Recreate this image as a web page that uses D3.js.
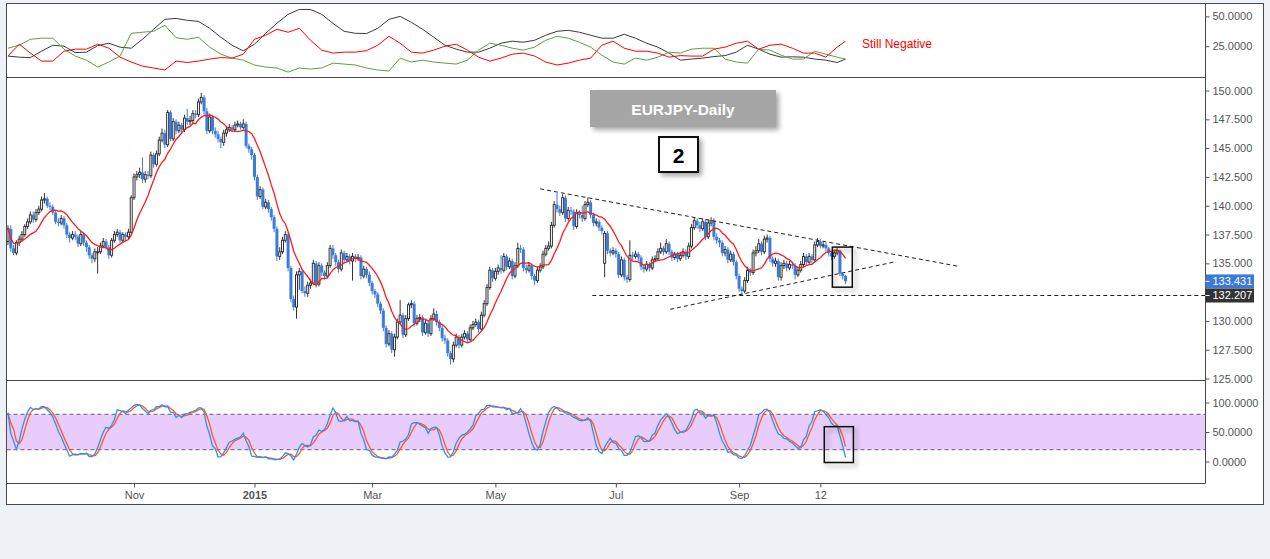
<!DOCTYPE html>
<html><head><meta charset="utf-8">
<script src="https://cdn.jsdelivr.net/npm/d3@7"></script>
<style>body{margin:0;background:#eef2f6;}svg{display:block}</style>
</head><body>
<svg id="c" width="1270" height="559"></svg>
<script>
// ---------------- DATA ----------------
const startDate = "2014-09-01";           // first daily bar (weekdays only)
const open0 = 136.9;
const closes = [
138.0,136.3,135.9,136.8,137.1,137.5,138.2,138.6,139.2,138.8,
139.4,139.7,140.5,140.6,140.0,139.9,139.4,138.6,138.5,138.9,
138.3,137.5,137.2,137.5,137.3,136.7,137.5,136.8,136.4,135.7,
135.4,136.0,136.0,136.5,136.9,136.4,135.7,137.0,137.5,137.7,
137.0,137.5,137.3,137.7,140.7,142.5,142.7,142.9,142.3,142.7,
142.6,144.4,143.6,144.5,145.7,146.3,145.3,148.1,145.8,147.3,
146.5,147.0,146.6,147.6,147.3,147.4,148.0,147.9,149.0,149.4,
148.2,146.5,147.7,146.5,146.2,145.8,145.5,146.3,146.6,146.8,
146.6,147.0,147.1,146.8,147.1,145.2,144.9,144.4,142.5,140.8,
141.4,139.9,140.3,139.7,139.0,138.0,135.6,136.0,137.0,137.5,
134.6,131.9,131.2,134.0,134.3,132.6,132.4,133.1,133.3,135.0,
133.2,134.8,134.2,133.9,134.8,136.3,135.7,135.1,134.5,135.9,
135.3,135.6,135.2,135.6,135.4,135.5,133.9,134.5,134.0,133.3,
132.6,132.3,131.5,130.9,129.4,128.0,128.9,127.5,128.6,129.9,
130.5,128.8,130.2,131.4,131.5,129.8,130.2,130.3,129.0,129.8,
128.9,130.2,130.6,129.9,129.4,128.5,128.3,127.2,126.7,127.9,
128.6,127.9,128.6,128.9,128.4,129.4,129.7,129.9,129.3,130.5,
131.5,132.9,134.4,133.7,134.3,134.6,134.4,135.6,134.7,135.2,
133.9,134.8,136.3,136.2,134.6,134.4,134.8,133.9,133.5,134.4,
134.7,135.8,136.3,136.5,138.3,140.1,139.7,139.4,140.7,138.9,
139.6,139.5,138.2,139.4,139.2,138.9,140.1,140.3,139.2,138.5,
138.6,138.1,137.8,137.6,136.1,135.9,136.1,135.8,134.0,135.3,
133.8,133.6,135.7,135.6,135.8,135.5,134.7,134.5,134.9,134.6,
135.3,135.4,136.0,136.3,136.0,136.7,136.0,135.5,135.8,135.4,
135.7,136.0,135.6,136.5,138.1,138.7,138.3,138.0,138.6,137.3,
138.5,138.7,137.3,137.0,136.8,135.9,136.2,135.3,135.8,135.1,
133.9,132.8,132.6,133.5,134.4,134.2,135.9,136.1,136.7,136.0,
137.1,137.2,135.4,135.0,135.2,133.8,134.8,135.0,134.6,134.9,
134.8,134.0,134.4,134.9,135.6,135.1,135.6,135.3,136.6,136.9,
136.5,136.6,136.3,135.9,135.6,135.9,136.1,134.1,133.9,133.431];
const highs = [
138.3,138.3,136.6,137.0,137.4,137.8,138.4,138.9,139.5,139.5,
139.7,140.0,140.8,141.1,140.8,140.3,140.1,139.6,138.9,139.2,
139.1,138.5,137.7,137.8,137.8,137.5,137.8,137.7,137.0,136.6,
135.9,136.3,136.4,136.8,137.2,137.1,136.6,137.2,137.8,138.0,
137.9,137.7,137.7,138.0,140.9,142.8,143.0,143.3,144.2,143.0,
143.0,144.7,144.6,144.8,146.0,146.7,146.6,148.3,148.3,147.6,
147.5,147.3,147.2,147.9,148.4,147.8,148.3,148.3,149.3,149.8,
149.6,148.5,148.0,147.9,146.8,146.5,146.0,146.6,146.9,147.1,
147.0,147.3,147.4,147.3,147.5,147.3,145.4,145.1,144.6,142.7,
141.7,141.6,140.6,140.5,139.9,139.2,138.2,136.4,137.3,137.8,
137.7,134.8,132.2,134.3,134.6,134.5,133.0,133.4,133.6,135.3,
135.2,135.1,135.0,134.4,135.1,136.6,136.6,135.9,135.3,136.2,
136.1,135.9,135.8,135.9,135.8,135.8,135.7,134.8,134.7,134.3,
133.5,132.8,132.5,131.7,131.1,129.6,129.2,129.1,128.9,130.2,
131.8,130.7,130.5,131.6,131.8,131.7,130.5,130.6,130.5,130.1,
130.0,130.5,131.1,130.9,130.1,129.6,128.8,128.5,127.4,128.2,
128.9,128.8,128.9,129.2,129.1,129.7,130.0,130.2,130.1,130.8,
131.8,133.2,134.7,134.6,134.6,134.9,135.7,135.9,135.8,135.5,
135.4,135.1,136.8,136.6,136.4,134.9,135.1,135.0,134.1,134.7,
135.0,136.1,136.6,136.9,138.6,140.4,141.1,140.0,141.0,140.9,
139.9,139.9,139.7,139.7,139.6,140.0,140.4,140.7,140.5,139.4,
138.9,138.8,138.3,137.8,137.8,136.3,136.4,136.3,136.0,135.6,
135.5,134.0,137.0,136.0,136.1,136.0,135.7,134.9,135.2,135.1,
135.6,135.7,136.3,136.8,136.5,137.1,136.9,136.2,136.0,136.0,
136.0,136.3,136.2,136.8,138.4,139.0,138.9,138.6,138.9,138.8,
138.8,139.0,138.9,137.6,137.2,137.0,136.5,136.4,136.1,136.0,
135.3,134.1,133.0,133.8,134.7,134.6,136.2,136.5,137.1,136.9,
137.4,137.5,137.4,135.6,135.5,135.4,135.1,135.3,135.2,135.2,
135.1,135.0,134.7,135.2,135.9,135.8,135.9,135.8,136.9,137.2,
137.1,136.9,136.8,136.4,136.1,136.2,136.4,136.2,134.2,134.0];
const lows = [
136.6,136.0,135.7,135.7,136.5,136.9,137.3,138.0,138.4,138.5,
138.6,139.2,139.5,140.2,139.8,139.6,139.2,138.4,138.2,138.3,
138.0,137.2,136.8,137.0,137.0,136.4,136.5,136.5,136.0,135.4,
135.0,135.1,134.1,135.8,136.3,136.2,135.4,135.5,136.8,137.3,
136.8,136.8,137.0,137.1,137.5,140.5,142.2,142.4,142.0,142.0,
142.3,142.4,143.3,143.4,144.3,145.5,145.0,145.1,145.6,145.6,
146.2,146.3,146.3,146.4,147.0,147.0,147.2,147.6,147.7,148.8,
147.9,146.2,146.3,146.2,145.9,145.5,145.0,145.2,146.0,146.4,
146.4,146.4,146.8,146.6,146.6,145.0,144.6,144.0,142.2,140.5,
140.6,139.7,139.7,139.4,138.7,137.7,135.2,135.3,135.8,136.8,
134.3,131.6,130.9,130.2,132.7,132.4,132.1,132.1,132.8,133.1,
132.9,133.0,133.9,133.6,133.7,134.6,135.4,134.8,134.2,134.3,
135.0,135.1,134.9,133.5,135.1,135.2,133.6,133.7,133.7,133.0,
132.3,132.0,131.2,130.6,129.1,127.7,127.8,127.2,126.9,128.4,
129.7,128.5,128.6,130.0,131.1,129.5,129.6,129.9,128.7,128.8,
128.6,128.7,130.0,129.6,129.1,128.2,128.0,126.9,126.2,126.4,
127.7,127.6,127.7,128.4,128.1,128.2,129.2,129.5,129.0,129.1,
130.3,131.3,132.7,133.4,133.5,134.0,134.1,134.2,134.4,134.5,
133.6,133.7,134.6,135.9,134.3,134.1,134.2,133.6,133.1,133.3,
134.2,134.5,135.6,136.1,136.3,138.1,139.4,139.1,139.2,138.6,
138.7,139.2,137.9,138.0,138.9,138.6,138.7,139.9,138.9,138.2,
138.2,137.8,137.5,133.8,135.8,135.6,135.7,135.5,133.7,133.8,
133.5,133.3,133.4,135.3,135.4,135.2,134.4,134.2,134.3,134.3,
134.4,135.1,135.2,135.8,135.7,135.8,135.7,135.2,135.3,135.1,
135.2,135.5,135.3,135.4,136.3,137.9,138.0,137.7,137.8,137.0,
137.1,138.2,137.0,136.7,136.4,135.6,135.6,135.0,135.1,134.8,
133.6,132.5,132.2,132.4,133.3,133.9,134.0,135.6,135.9,135.7,
135.8,136.8,135.1,134.7,134.7,133.5,133.5,134.5,134.3,134.4,
134.5,133.6,133.8,134.2,134.7,134.8,134.9,135.0,135.1,136.4,
136.3,136.3,136.0,135.6,135.3,135.4,135.7,133.9,133.6,133.2];
const gapOpens = [[213, 135.0]];          // [bar, open] where the open gapped

// DMI pane: sample bars and the three lines
const dmiBars = [0,4,8,12,16,20,24,28,32,36,40,44,48,52,56,60,64,68,72,76,80,84,88,92,96,100,104,108,112,116,
120,124,128,132,136,140,144,148,152,156,160,164,168,172,176,180,184,188,192,196,200,204,208,212,216,220,224,228,232,236,
240,244,248,252,256,260,264,268,272,276,280,284,288,292,296,299];
const adxLine = [
16.7,15.8,15.4,20.8,25.8,25.0,19.6,20.0,25.4,27.5,
24.2,23.3,30.8,39.2,47.5,48.3,46.7,45.8,40.0,32.5,
25.8,21.1,26.7,35.8,44.2,51.7,55.8,55.8,51.7,44.2,
37.5,35.8,35.6,40.0,47.5,50.0,45.0,39.2,32.5,25.8,
22.5,20.0,20.0,23.3,27.5,29.2,28.3,30.0,34.2,37.5,
38.3,36.7,34.2,31.7,31.7,35.0,31.7,27.5,24.2,19.2,
13.3,14.2,15.0,16.3,17.1,20.0,25.8,22.5,18.3,15.8,
16.1,15.8,14.2,13.3,11.3,14.2];
const minusDI = [
16.7,26.7,19.2,12.5,12.5,20.8,22.5,22.5,26.7,23.3,
15.8,11.7,8.3,6.7,5.0,12.5,11.3,12.5,14.2,15.4,
15.0,18.3,30.8,34.2,39.2,36.7,40.0,30.0,21.7,19.2,
20.0,20.0,21.3,25.8,33.3,27.5,20.0,19.2,21.7,25.0,
26.7,21.7,15.8,12.5,15.0,18.3,19.2,16.7,11.7,9.2,
10.8,13.3,15.0,25.8,29.2,23.3,20.8,20.8,19.2,15.8,
17.1,16.7,16.7,22.5,24.2,27.5,29.2,22.5,25.8,26.7,
23.3,19.2,19.2,15.8,24.2,29.2];
const plusDI = [
23.3,25.8,30.8,31.7,31.7,22.5,16.7,13.3,7.5,11.7,
16.7,35.8,36.7,37.5,42.5,32.1,30.8,32.5,24.2,18.3,
15.0,13.3,9.2,7.5,6.7,3.3,6.7,5.8,6.7,10.8,
10.0,9.2,6.7,5.0,4.2,15.0,11.7,13.3,11.7,10.8,
10.0,13.3,21.7,27.5,25.8,23.3,21.7,24.2,30.0,33.3,
31.7,28.3,24.2,17.5,11.7,10.0,15.0,13.3,15.8,20.0,
19.2,22.5,23.3,23.3,14.2,11.7,10.8,22.5,21.7,17.5,
14.2,14.2,20.8,18.3,15.8,14.2];

// 132.500 is hidden behind the price labels in the reference, so it is not listed
const priceTicks = [125,127.5,130,135,137.5,140,142.5,145,147.5,150];
const dmiTicks = [25, 50];
const stochTicks = [0, 50, 100];
const xTickLabels = ["Nov","2015","Mar","May","Jul","Sep","12"];
const xTickDates  = ["2014-11-03","2015-01-01","2015-03-02","2015-05-01","2015-07-01","2015-09-01","2015-10-12"];
const boldTicks = ["2015"];

const supportLevel = 132.207;
const supportFrom = 208.6;                      // bar
const upperTrend = [[190, 141.46], [338.9, 134.76]];   // [bar, price]
const lowerTrend = [[236.4, 131.01], [316.1, 135.10]];
const boxMain  = [[294.3, 136.41], [301.4, 132.93]];
const boxStoch = [[291.4, 59], [301.8, -1.7]];
const stochBand = [20, 80];
const maPeriod = 10, stochK = 14, stochSmooth = 3;

// ---------------- DERIVED ----------------
const N = closes.length;
const opens = closes.map((c,i)=> i===0 ? open0 : closes[i-1]);
gapOpens.forEach(([i,o])=>{opens[i]=o;});
const bars = closes.map((c,i)=>({i, o:opens[i], h:highs[i], l:lows[i], c}));

const parse = d3.utcParse("%Y-%m-%d"), fmt = d3.utcFormat("%Y-%m-%d");
const dates = []; {let d = parse(startDate); while(dates.length<450){const wd=d.getUTCDay(); if(wd!==0&&wd!==6) dates.push(fmt(d)); d=d3.utcDay.offset(d,1);} }
const tickIdx = xTickDates.map(s=>dates.indexOf(s));

const ma = closes.map((c,i)=>{const s=Math.max(0,i-maPeriod+1); return d3.mean(closes.slice(s,i+1));});
const raw = closes.map((c,i)=>{const s=Math.max(0,i-stochK+1); const hh=d3.max(highs.slice(s,i+1)), ll=d3.min(lows.slice(s,i+1)); return hh===ll?50:(c-ll)/(hh-ll)*100;});
const kLine = raw.map((v,i)=>d3.mean(raw.slice(Math.max(0,i-stochSmooth+1),i+1)));
const dLine = kLine.map((v,i)=>d3.mean(kLine.slice(Math.max(0,i-stochSmooth+1),i+1)));

// ---------------- LAYOUT ----------------
const L=6.5, R=1205.5, RB=1263.5, T=3.5, S1=77.5, S2=380.5, B=483.5, BB=504.5;
const svg = d3.select("#c");
const font = "'Liberation Sans', Arial, sans-serif";
const defs = svg.append("defs");
const f = defs.append("filter").attr("id","sh").attr("x","-40%").attr("y","-40%").attr("width","180%").attr("height","180%");
f.append("feDropShadow").attr("dx",3).attr("dy",3).attr("stdDeviation",2.5).attr("flood-color","#000").attr("flood-opacity",0.35);
[["cTop",T,S1],["cMain",S1,S2],["cSto",S2,B]].forEach(([id,a,b])=>defs.append("clipPath").attr("id",id).append("rect").attr("x",L).attr("y",a).attr("width",R-L).attr("height",b-a));

svg.append("rect").attr("x",L).attr("y",T).attr("width",RB-L).attr("height",BB-T).attr("fill","#fff");

const x = d3.scaleLinear().domain([-0.35, 427.5]).range([L+0.5, R]);
const yP = d3.scaleLinear().domain([124.83, 151.13]).range([S2, S1]);
const yD = d3.scaleLinear().domain([0, 60.8]).range([76, T]);
const yS = d3.scaleLinear().domain([-37.3, 137.3]).range([B, S2]);
const lineXY = (ys)=>d3.line().x(d=>x(d[0])).y(d=>ys(d[1]));

// ---- top pane (DMI)
const gT = svg.append("g").attr("clip-path","url(#cTop)");
[[adxLine,"#3a3a3a"],[plusDI,"#5f9e45"],[minusDI,"#ff0000"]].forEach(([vals,col])=>
  gT.append("path").datum(vals.map((v,k)=>[dmiBars[k],v])).attr("d",lineXY(yD)).attr("fill","none").attr("stroke",col).attr("stroke-width",1));
svg.append("text").attr("x",862).attr("y",48).attr("font-family",font).attr("font-size",12).attr("fill","#ff0000").text("Still Negative");

// ---- main pane
const gM = svg.append("g").attr("clip-path","url(#cMain)");
const up = "#333333", dnC = "#3d7bd9";
gM.selectAll("line.w").data(bars).join("line").attr("class","w")
  .attr("x1",d=>x(d.i)).attr("x2",d=>x(d.i)).attr("y1",d=>yP(d.h)).attr("y2",d=>yP(d.l))
  .attr("stroke",d=>d.c>=d.o?up:dnC).attr("stroke-width",1);
gM.selectAll("rect.b").data(bars).join("rect").attr("class","b")
  .attr("x",d=>d.c>=d.o?x(d.i)-1:x(d.i)-1.5)
  .attr("width",d=>d.c>=d.o?2:3)
  .attr("y",d=>yP(Math.max(d.o,d.c)))
  .attr("height",d=>Math.max(1,yP(Math.min(d.o,d.c))-yP(Math.max(d.o,d.c))))
  .attr("fill",d=>d.c>=d.o?"#fff":dnC)
  .attr("stroke",d=>d.c>=d.o?up:"none").attr("stroke-width",1);
gM.append("path").datum(ma.map((v,i)=>[i,v])).attr("d",lineXY(yP)).attr("fill","none").attr("stroke","#ff1a1a").attr("stroke-width",1.3);
[upperTrend, lowerTrend].forEach(t=>gM.append("line").attr("x1",x(t[0][0])).attr("y1",yP(t[0][1])).attr("x2",x(t[1][0])).attr("y2",yP(t[1][1]))
  .attr("stroke","#222").attr("stroke-width",1).attr("stroke-dasharray","4,3"));
gM.append("line").attr("x1",x(supportFrom)).attr("x2",R).attr("y1",yP(supportLevel)).attr("y2",yP(supportLevel))
  .attr("stroke","#222").attr("stroke-width",1).attr("stroke-dasharray","4,3");
gM.append("rect").attr("x",x(boxMain[0][0])).attr("y",yP(boxMain[0][1])).attr("width",x(boxMain[1][0])-x(boxMain[0][0])).attr("height",yP(boxMain[1][1])-yP(boxMain[0][1]))
  .attr("fill","none").attr("stroke","#111").attr("stroke-width",1.5).attr("filter","url(#sh)");
svg.append("rect").attr("x",590).attr("y",90).attr("width",186).attr("height",37).attr("fill","#a5a5a5").attr("filter","url(#sh)");
svg.append("text").attr("x",683).attr("y",114.5).attr("text-anchor","middle").attr("font-family",font).attr("font-weight","bold").attr("font-size",15.5).attr("fill","#fff").text("EURJPY-Daily");
svg.append("rect").attr("x",659).attr("y",137).attr("width",39).attr("height",35).attr("fill","#fff").attr("stroke","#111").attr("stroke-width",2).attr("filter","url(#sh)");
svg.append("text").attr("x",678.5).attr("y",162.5).attr("text-anchor","middle").attr("font-family",font).attr("font-weight","bold").attr("font-size",21).attr("fill","#000").text("2");

// ---- stochastic pane
const gS = svg.append("g").attr("clip-path","url(#cSto)");
gS.append("rect").attr("x",L).attr("width",R-L).attr("y",yS(stochBand[1])).attr("height",yS(stochBand[0])-yS(stochBand[1])).attr("fill","#e8cdfc");
stochBand.forEach(v=>gS.append("line").attr("x1",L).attr("x2",R).attr("y1",yS(v)).attr("y2",yS(v)).attr("stroke","#6a5878").attr("stroke-dasharray","4,3").attr("stroke-width",1));
gS.append("path").datum(dLine.map((v,i)=>[i,v])).attr("d",lineXY(yS)).attr("fill","none").attr("stroke","#ff5a1f").attr("stroke-width",1.3);
gS.append("path").datum(kLine.map((v,i)=>[i,v])).attr("d",lineXY(yS)).attr("fill","none").attr("stroke","#2f8ff2").attr("stroke-width",1.3);
gS.append("rect").attr("x",x(boxStoch[0][0])).attr("y",yS(boxStoch[0][1])).attr("width",x(boxStoch[1][0])-x(boxStoch[0][0])).attr("height",yS(boxStoch[1][1])-yS(boxStoch[0][1]))
  .attr("fill","none").attr("stroke","#111").attr("stroke-width",1.5).attr("filter","url(#sh)");

// ---- frame
const fr = svg.append("g").attr("stroke","#4a4a4a").attr("stroke-width",1).attr("fill","none");
fr.append("rect").attr("x",L).attr("y",T).attr("width",RB-L).attr("height",BB-T);
[S1,S2,B].forEach(yv=>fr.append("line").attr("x1",L).attr("x2",R).attr("y1",yv).attr("y2",yv));
fr.append("line").attr("x1",R).attr("x2",R).attr("y1",T).attr("y2",B);

// ---- axes
function yAxis(scale, ticks, f){
  const g = svg.append("g").attr("transform",`translate(${R},0)`)
    .call(d3.axisRight(scale).tickValues(ticks).tickFormat(d3.format(f)).tickSize(4).tickPadding(3));
  g.select(".domain").remove();
  g.selectAll("line").attr("stroke","#555");
  g.selectAll("text").attr("font-family",font).attr("font-size",11).attr("fill","#555");
}
yAxis(yD, dmiTicks, ".4f");
yAxis(yP, priceTicks, ".3f");
yAxis(yS, stochTicks, ".4f");
// price labels
const lastY = yP(closes[N-1]);
[[closes[N-1],"#3c78d8",lastY],[supportLevel,"#333333",Math.max(yP(supportLevel), lastY+14)]].forEach(([v,col,cy])=>{
  svg.append("rect").attr("x",R).attr("y",cy-7).attr("width",48.5).attr("height",14).attr("fill",col);
  svg.append("line").attr("x1",R).attr("x2",R+4).attr("y1",cy).attr("y2",cy).attr("stroke","#fff");
  svg.append("text").attr("x",R+7).attr("y",cy).attr("dy","0.35em").attr("font-family",font).attr("font-size",11).attr("fill","#fff").text(d3.format(".3f")(v));
});
// x axis
const gx = svg.append("g").attr("transform",`translate(0,${B})`)
  .call(d3.axisBottom(x).tickValues(tickIdx).tickFormat((d,k)=>xTickLabels[k]).tickSize(4).tickPadding(4));
gx.select(".domain").remove();
gx.selectAll("line").attr("stroke","#555");
gx.selectAll("text").attr("font-family",font).attr("font-size",11).attr("fill","#555")
  .attr("font-weight",(d,k)=>boldTicks.includes(xTickLabels[k])?"bold":"normal");
</script>
</body></html>
